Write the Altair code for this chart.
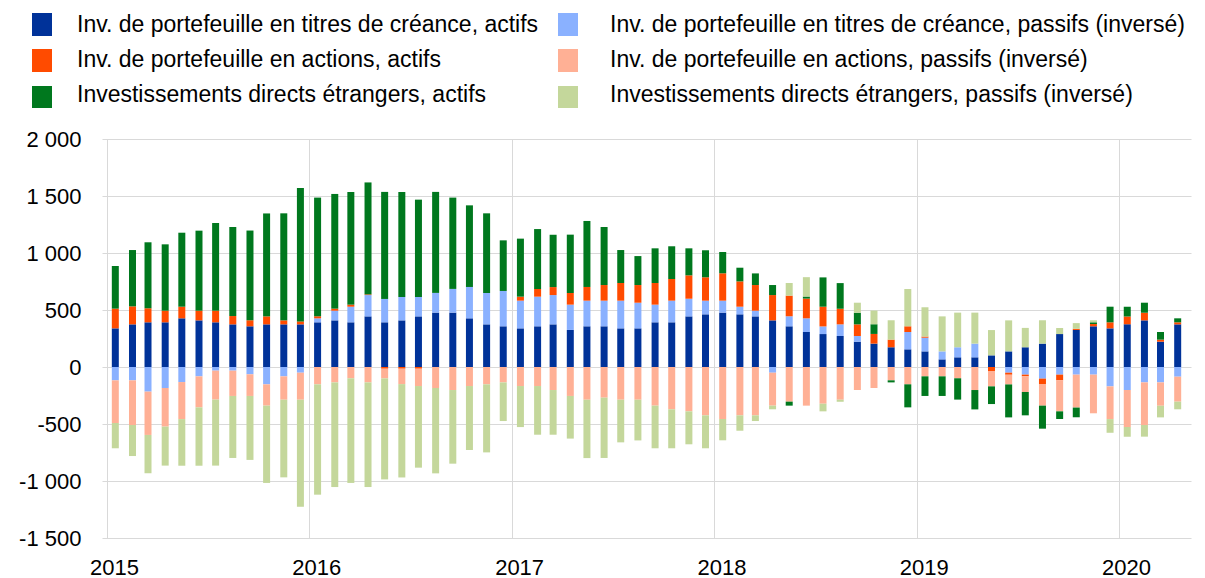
import altair as alt
import pandas as pd

# ---------------- data (monthly, Jan 2015 - Apr 2020) ----------------
months = pd.date_range("2015-01-01", "2020-04-01", freq="MS")
dates = [(m + pd.Timedelta(days=15)).strftime("%Y-%m-%d") for m in months]

series_names = [
    "Inv. de portefeuille en titres de créance, actifs",
    "Inv. de portefeuille en titres de créance, passifs (inversé)",
    "Inv. de portefeuille en actions, actifs",
    "Inv. de portefeuille en actions, passifs (inversé)",
    "Investissements directs étrangers, actifs",
    "Investissements directs étrangers, passifs (inversé)",
]
colors = ["#003299", "#8AB1FF", "#FF4B00", "#FFB095", "#00781E", "#C4D79B"]

debt_assets = [
    339, 374, 392, 392, 427, 409, 392, 374, 357, 374, 374, 374,
    392, 409, 392, 444, 392, 409, 444, 477, 477, 427, 374, 357,
    339, 357, 374, 325, 357, 357, 339, 339, 392, 392, 444, 462,
    477, 462, 444, 409, 357, 307, 289, 272, 222, 205, 173, 155,
    137, 67, 85, 85, 102, 137, 173, 205, 289, 325, 357, 339,
    374, 409, 222, 374,
]
debt_liab_inv = [
    -117, -117, -216, -184, -132, -82, -32, -32, -64, -152, -82, -50,
    35, 85, 137, 187, 205, 205, 170, 173, 208, 275, 275, 310,
    243, 260, 257, 222, 225, 225, 243, 225, 155, 190, 155, 120,
    105, 67, 50, -50, 88, 120, 67, 102, 50, 0, 0, 152,
    120, 70, 88, 120, 0, -50, -67, -102, -67, -67, -67, -170,
    -202, -135, -135, -85,
]
equity_assets = [
    173, 158, 123, 102, 102, 85, 102, 73, 53, 70, 35, 26,
    18, 18, 18, 6, -15, -15, -15, 0, 0, 0, 0, 0,
    35, 67, 70, 102, 120, 137, 155, 155, 190, 190, 205, 205,
    240, 222, 225, 222, 181, 173, 173, 137, 102, 85, 67, 50,
    10, 0, 0, 0, -35, -18, -15, -47, -50, 10, 20, 53,
    70, 67, 18, 18,
]
equity_liab_inv = [
    -374, -392, -380, -339, -325, -272, -254, -222, -190, -187, -205, -237,
    -152, -135, -99, -135, -85, -135, -152, -184, -202, -167, -152, -135,
    -167, -167, -202, -254, -287, -269, -287, -287, -339, -371, -389, -424,
    -456, -424, -424, -289, -304, -339, -322, -287, -202, -184, -117, -152,
    -82, -82, -99, -202, -135, -85, -137, -190, -272, -289, -339, -287,
    -325, -374, -205, -219,
]
fdi_assets = [
    374, 494, 579, 582, 649, 702, 769, 781, 787, 903, 939, 1170,
    1041, 1006, 988, 982, 939, 921, 854, 886, 801, 716, 699, 444,
    509, 526, 459, 512, 579, 509, 289, 254, 304, 287, 237, 237,
    187, 120, 102, 88, -35, 18, 257, 225, 102, 85, -18, -202,
    -172, -172, -187, -170, -155, -289, -205, -202, -67, -85, 15, 137,
    85, 88, 67, 35,
]
fdi_liab_inv = [
    -222, -272, -336, -342, -409, -512, -579, -544, -561, -678, -681, -939,
    -968, -918, -918, -918, -886, -819, -716, -749, -646, -561, -597, -339,
    -360, -427, -392, -374, -512, -529, -374, -357, -374, -342, -289, -289,
    -187, -135, -50, -32, 111, 170, -67, -18, 88, 120, 170, 327,
    257, 307, 304, 272, 222, 272, 170, 205, 53, 50, 18, -120,
    -85, -102, -102, -67,
]

all_values = [debt_assets, debt_liab_inv, equity_assets,
              equity_liab_inv, fdi_assets, fdi_liab_inv]

y_ticks = [-1500, -1000, -500, 0, 500, 1000, 1500, 2000]
year_ticks = [2015, 2016, 2017, 2018, 2019, 2020]

rows = []
for i, (name, vals) in enumerate(zip(series_names, all_values)):
    for d, v in zip(dates, vals):
        rows.append({"date": d, "series": name, "value": v, "order": i})
df = pd.DataFrame(rows)

FONT = "Liberation Sans"
GRID = "#D9D9D9"

bars = alt.Chart(df).mark_bar(size=7).encode(
    x=alt.X(
        "date:T",
        title=None,
        scale=alt.Scale(
            type="utc",
            domain=[alt.DateTime(year=2015, month=1, date=1, utc=True),
                    alt.DateTime(year=2020, month=5, date=1, utc=True)],
        ),
        axis=alt.Axis(
            values=[alt.DateTime(year=y, month=1, date=1, utc=True) for y in year_ticks],
            format="%Y", formatType="utc",
            grid=True, gridColor=GRID, gridWidth=1,
            domain=False, ticks=False, tickSize=0,
            labelPadding=19, labelOffset=7,
            labelFontSize=22, labelFont=FONT, labelColor="#000000",
        ),
    ),
    y=alt.Y(
        "value:Q",
        title=None,
        stack="zero",
        scale=alt.Scale(domain=[-1500, 2000], nice=False),
        axis=alt.Axis(
            values=y_ticks,
            labelExpr="(datum.value < 0 ? '-' : '') + replace(format(abs(datum.value), ','), ',', ' ')",
            grid=True, gridColor=GRID, gridWidth=1,
            domain=False, ticks=False, tickSize=0,
            labelPadding=21,
            labelFontSize=22, labelFont=FONT, labelColor="#000000",
        ),
    ),
    color=alt.Color("series:N",
                    scale=alt.Scale(domain=series_names, range=colors),
                    legend=None),
    order=alt.Order("order:Q", sort="ascending"),
)

# ---------------- manual two-column legend ----------------
legend_layers = []
one = pd.DataFrame({"k": [0]})
sq_x = [(-70, -50), (456, 476)]
txt_x = [-25, 508]
sq_y = [(-126, -103), (-90, -67), (-53, -31)]
txt_base = [-107, -72, -37]
for i, (name, col) in enumerate(zip(series_names, colors)):
    c = i % 2       # column: assets left, liabilities right
    r = i // 2      # row
    legend_layers.append(
        alt.Chart(one).mark_rect(color=col).encode(
            x=alt.value(sq_x[c][0]), x2=alt.value(sq_x[c][1]),
            y=alt.value(sq_y[r][0]), y2=alt.value(sq_y[r][1]),
        )
    )
    legend_layers.append(
        alt.Chart(one).mark_text(
            text=name, align="left", baseline="alphabetic",
            font=FONT, fontSize=23, color="#000000",
        ).encode(x=alt.value(txt_x[c]), y=alt.value(txt_base[r]))
    )

chart = alt.layer(bars, *legend_layers).properties(
    width=1089,
    height=399,
    padding={"left": 94, "top": 131, "right": 6, "bottom": 40},
    autosize=alt.AutoSizeParams(type="none"),
).configure_view(stroke=None)

chart.save("out.html", embed_options={"renderer": "svg", "actions": False})
